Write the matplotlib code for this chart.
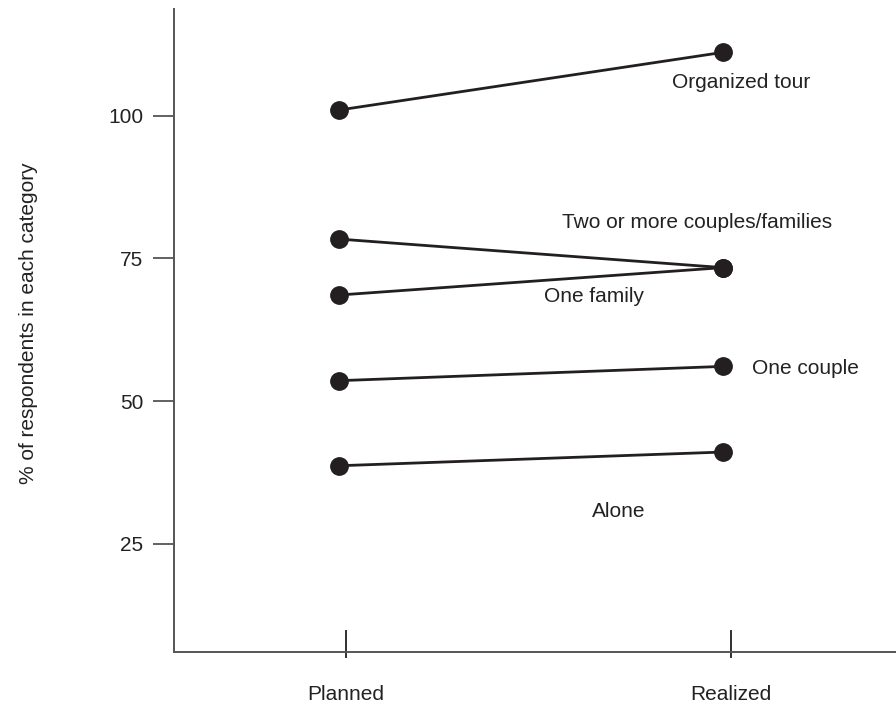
import matplotlib
matplotlib.use("Agg")
import matplotlib.pyplot as plt

plt.rcParams['font.family'] = ['Liberation Sans', 'DejaVu Sans']

stages = ["Planned", "Realized"]
groups = ["Organized tour", "Two or more couples/families", "One family",
          "One couple", "Alone"]
planned = [101.0, 78.4, 68.6, 53.6, 38.7]
realized = [111.1, 73.4, 73.4, 56.1, 41.1]

# label anchor points (data coords) and alignment for each group
label_x = [1.047, 0.932, 0.664, 1.076, 0.729]
label_y = [105.8, 81.3, 68.3, 55.7, 30.6]
label_ha = ["center", "center", "center", "left", "center"]

y_ticks = [25, 50, 75, 100]

ink = "#231f20"
axis_col = "#555555"
txt_col = "#222222"
fs = 15

fig = plt.figure(figsize=(8.96, 7.03), dpi=100)
ax = fig.add_axes([0.1942, 0.07255, 0.8058, 0.9147])

xs = [0, 1]
for p, r in zip(planned, realized):
    ax.plot(xs, [p, r], color=ink, lw=2.0, solid_capstyle="round", zorder=2)
    ax.plot(xs, [p, r], "o", color=ink, ms=12.5, zorder=3)

for name, lx, ly, ha in zip(groups, label_x, label_y, label_ha):
    ax.text(lx, ly, name, ha=ha, va="center", fontsize=fs, color=txt_col)

ax.set_xlim(-0.430, 1.451)
ax.set_ylim(6.08, 118.7)

for s in ["top", "right"]:
    ax.spines[s].set_visible(False)
for s in ["left", "bottom"]:
    ax.spines[s].set_color(axis_col)
    ax.spines[s].set_linewidth(1.4)

ax.set_yticks(y_ticks)
ax.set_yticklabels([str(v) for v in y_ticks])
ax.tick_params(axis="y", direction="out", length=15, width=1.3, color=axis_col,
               pad=7, labelsize=fs, labelcolor=txt_col)

tick_pos = [0.018, 1.02]
ax.xaxis.remove_overlapping_locs = False
ax.set_xticks(tick_pos)
ax.set_xticklabels(stages)
ax.set_xticks(tick_pos, minor=True)
ax.tick_params(axis="x", which="major", direction="in", length=16, width=1.3,
               color=ink, pad=24, labelsize=fs, labelcolor=txt_col)
ax.tick_params(axis="x", which="minor", direction="out", length=4.5, width=1.3,
               color=ink)

fig.text(29 / 896, 1 - 323 / 703, "% of respondents in each category",
         rotation=90, ha="center", va="center", fontsize=fs, color=txt_col)

fig.savefig("out.png", dpi=100)
